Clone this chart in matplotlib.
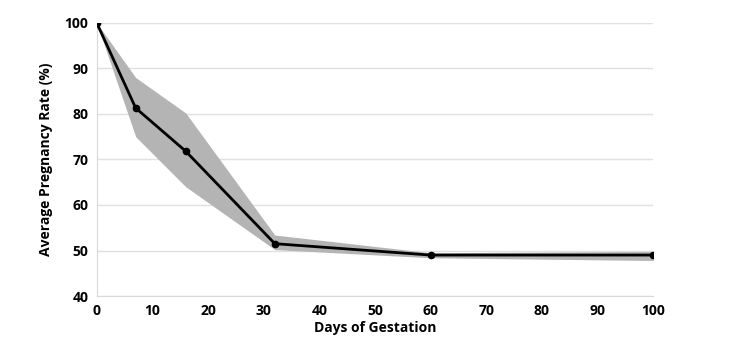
import matplotlib
matplotlib.use("Agg")
import matplotlib.pyplot as plt

plt.rcParams['font.family'] = ['Open Sans', 'DejaVu Sans']

days = [0, 7, 16, 32, 60, 100]
rate = [100, 81.3, 71.8, 51.5, 49.0, 49.0]
upper = [100, 88.0, 80.2, 53.4, 49.5, 49.8]
lower = [100, 75.0, 64.0, 50.2, 48.4, 47.8]

fig = plt.figure(figsize=(7.44, 3.52), dpi=100)
ax = fig.add_axes([0.130, 0.159, 0.748, 0.776])

ax.fill_between(days, lower, upper, color='#b4b4b4', lw=0, zorder=2)
ax.plot(days, rate, color='black', lw=2, marker='o', ms=4.5, zorder=3)

ax.set_xlim(0, 100)
ax.set_ylim(40, 100)
ax.set_xticks(range(0, 101, 10))
ax.set_yticks(range(40, 101, 10))
ax.yaxis.grid(True, color='#e0e0e0', lw=1)
ax.set_axisbelow(True)
for s in ['top', 'right']:
    ax.spines[s].set_visible(False)
for s in ['left', 'bottom']:
    ax.spines[s].set_color('#d9d9d9')
ax.tick_params(length=0, labelsize=10, pad=6)
for lab in ax.get_xticklabels() + ax.get_yticklabels():
    lab.set_fontweight('bold')

ax.set_xlabel('Days of Gestation', fontsize=10, fontweight='bold', labelpad=2)
ax.set_ylabel('Average Pregnancy Rate (%)', fontsize=10, fontweight='bold', labelpad=8)

fig.savefig('out.png', dpi=100)
